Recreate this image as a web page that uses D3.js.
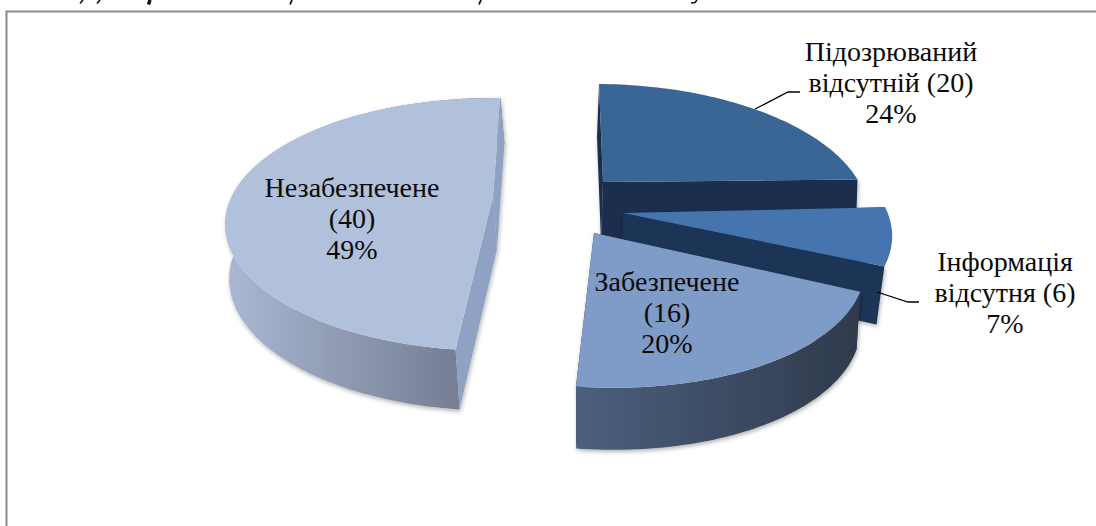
<!DOCTYPE html>
<html><head><meta charset="utf-8">
<script src="https://cdn.jsdelivr.net/npm/d3@7/dist/d3.min.js"></script>
<style>html,body{margin:0;padding:0;background:#fff}svg{display:block}</style></head>
<body><svg id="c" width="1096" height="526"></svg>
<script>
const categories=["Підозрюваний відсутній","Інформація відсутня","Забезпечене","Незабезпечене"];
const values=[20,6,16,40];
const percents=["24%","7%","20%","49%"];
const labelLines=[["Підозрюваний","відсутній (20)","24%"],["Інформація","відсутня (6)","7%"],["Забезпечене","(16)","20%"],["Незабезпечене","(40)","49%"]];
const topColors=["#3a6696","#4574ae","#7f9bc7","#b1c1dc"];
const cutColors=["#1c2f4d","#1c3557","#27384f","#8fa2c3"];
const sideStart=["#2b3f5c","#2b4468","#4c5f7e","#abb8d3"];
const sideEnd=["#1c2f4d","#1c3557","#2f3a4c","#6a7286"];

// perspective disk geometry
const K=0.225,RX=251,RY=120;
const geo=[
 {cx:603,cy:182,scale:1.015,shear:0.115,tilt:-0.008,dx0:-2,slope:0,extra:5,wall:false,wallFirst:false},
 {cx:623,cy:213,scale:1.045,shear:0,tilt:-0.02,dx0:0,slope:-0.03,extra:0,wall:false,wallFirst:false},
 {cx:594,cy:233,scale:1.035,shear:0.125,tilt:0,dx0:0,slope:-0.014,extra:0,wall:true,wallFirst:false},
 {cx:493,cy:196,scale:1.04,shear:0,tilt:0,dx0:4,slope:0,extra:-2,wall:true,wallFirst:true}
];
const labelPos=[[891,61],[1005,271],[667,291],[352,197]];
const leaders=[[[755,109],[788,92],[800,92]],[[877,292],[908,302],[919,302]]];
// descender fragments of the caption line that the picture's top edge cuts off
const captionFragments=[
 [[83,0],[80,3.5]],[[100,0],[97,3.5]],[[150,0],[148.5,4.5]],[[292,0],[290,4.5]],[[481,0],[479,4.5]],
 [[697,0],[695,2.5],[691,3]]
];
const fragmentWidths=[1.6,1.6,3.4,1.8,1.8,1.6];

const pie=d3.pie().sort(null).startAngle(2*Math.PI/180).endAngle(362*Math.PI/180).value(d=>d);
const arcs=pie(values);
const svg=d3.select("#c");
const defs=svg.append("defs");
const f=defs.append("filter").attr("id","sh").attr("x","-10%").attr("y","-10%").attr("width","120%").attr("height","120%");
f.append("feDropShadow").attr("dx",1).attr("dy",2).attr("stdDeviation",2).attr("flood-color","#000").attr("flood-opacity",.3);
values.forEach((v,i)=>{
  const g=defs.append("linearGradient").attr("id","sg"+i).attr("x1",0).attr("x2",1).attr("y1",0).attr("y2",0);
  g.append("stop").attr("offset",0).attr("stop-color",sideStart[i]);
  g.append("stop").attr("offset",1).attr("stop-color",sideEnd[i]);
});

function project(i,theta,r,down){
  const g=geo[i],s=Math.sin(theta)*r,c=-Math.cos(theta)*r,w=1-K*c;
  const px=g.scale*RX*s/w, py=RY*c/w;
  let x=g.cx+px+g.shear*py, y=g.cy+py+g.tilt*px;
  if(down){ y+=55+7*c+g.extra; x+=g.dx0+g.slope*(x-g.cx); }
  return [x,y];
}
const line=d3.line();
function arcPts(i,a0,a1,down){
  return d3.range(0,61).map(t=>project(i,a0+(a1-a0)*t/60,1,down));
}
captionFragments.forEach((p,i)=>svg.append("path").attr("d",line(p)).attr("fill","none").attr("stroke","#111").attr("stroke-width",fragmentWidths[i]));
// frame
svg.append("path").attr("d","M6.5,526V11.5H1096").attr("fill","none").attr("stroke","#8a8a8a").attr("stroke-width",2);

const chart=svg.append("g");
arcs.forEach((a,i)=>{
  const g=chart.append("g").attr("class","slice");
  const a0=a.startAngle,a1=a.endAngle;
  const shade=g.append("g").attr("filter","url(#sh)");
  const ap=project(i,0,0,false),apD=project(i,0,0,true);
  const p0=project(i,a0,1,false),p0D=project(i,a0,1,true),p1=project(i,a1,1,false),p1D=project(i,a1,1,true);
  const top=arcPts(i,a0,a1,false),bot=arcPts(i,a0,a1,true).reverse();
  const cuts=()=>{
    shade.append("path").attr("d",line([p0,ap,apD,p0D])+"Z").attr("fill",cutColors[i]);
    shade.append("path").attr("d",line([p1,ap,apD,p1D])+"Z").attr("fill",cutColors[i]);
  };
  const wall=()=>{ if(geo[i].wall) shade.append("path").attr("d",line(top.concat(bot))+"Z").attr("fill",`url(#sg${i})`); };
  if(geo[i].wallFirst){wall();cuts();}else{cuts();wall();}
  g.append("path").attr("d",line([ap].concat(top))+"Z").attr("fill",topColors[i]);
});
leaders.forEach(l=>svg.append("path").attr("d",line(l)).attr("fill","none").attr("stroke","#000").attr("stroke-width",1.3));
labelLines.forEach((ls,i)=>{
  const t=svg.append("text").attr("text-anchor","middle").attr("font-family","'Liberation Serif',serif").attr("font-size",28).attr("fill","#0a0a0a");
  ls.forEach((s,j)=>t.append("tspan").attr("x",labelPos[i][0]).attr("y",labelPos[i][1]+j*31).text(s));
});
</script></body></html>
